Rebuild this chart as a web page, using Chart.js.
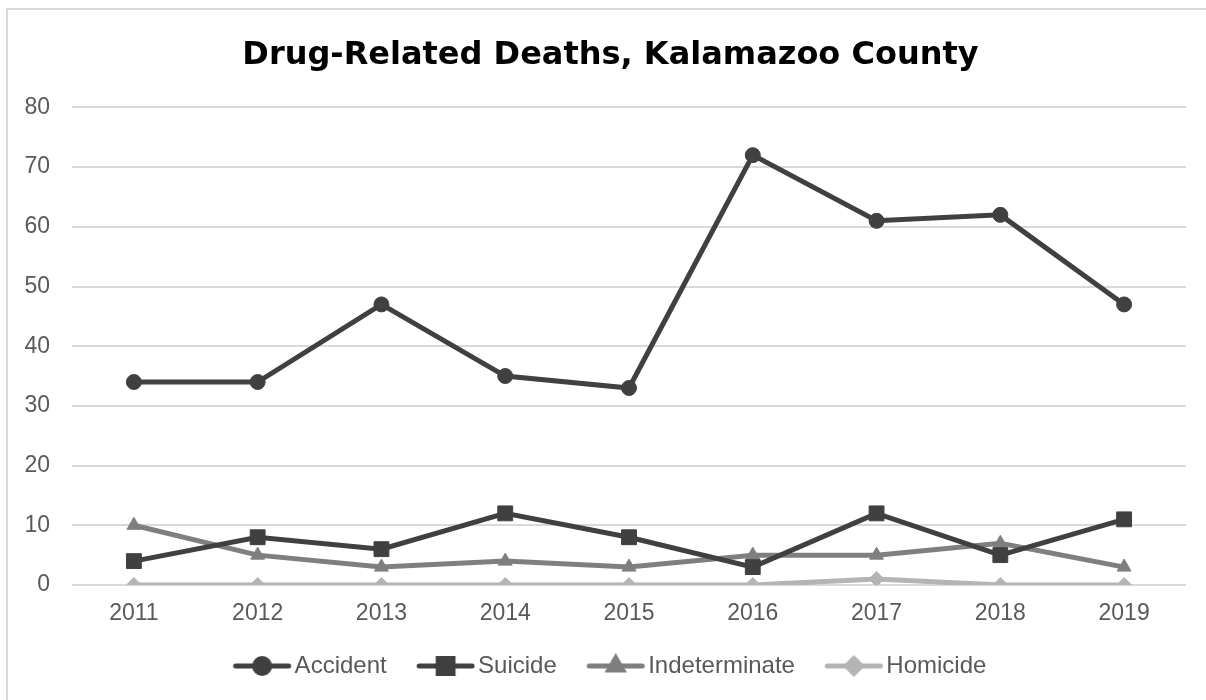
<!DOCTYPE html>
<html lang="en">
<head>
    <meta charset="UTF-8">
    <title>Drug-Related Deaths, Kalamazoo County</title>
    <style>
        html, body { margin: 0; padding: 0; background: #fff; }
        .frame {
            position: absolute;
            left: 6px; top: 8px;
            width: 1300px; height: 800px;
            border-left: 2px solid #d9d9d9;
            border-top: 2px solid #d9d9d9;
        }
        .wrap {
            position: absolute;
            left: 0; top: 0;
            width: 1206px; height: 700px;
        }
    </style>
</head>
<body>
    <div class="frame"></div>
    <div class="wrap">
        <canvas id="myChart"></canvas>
    </div>

    <script src="https://cdn.jsdelivr.net/npm/chart.js"></script>
    <script>
        const years = ['2011', '2012', '2013', '2014', '2015', '2016', '2017', '2018', '2019'];
        const accident      = [34, 34, 47, 35, 33, 72, 61, 62, 47];
        const suicide       = [4, 8, 6, 12, 8, 3, 12, 5, 11];
        const indeterminate = [10, 5, 3, 4, 3, 5, 5, 7, 3];
        const homicide      = [0, 0, 0, 0, 0, 0, 1, 0, 0];

        // legend symbol: short line with the marker in the middle
        // (blank space on the left stands in for the gap between items)
        function legendIcon(color, style, radius) {
            const c = document.createElement('canvas');
            c.width = 88;
            c.height = 26;
            const g = c.getContext('2d');
            g.strokeStyle = color;
            g.fillStyle = color;
            g.lineWidth = 5;
            g.lineCap = 'round';
            g.beginPath();
            g.moveTo(31, 13);
            g.lineTo(84, 13);
            g.stroke();
            Chart.helpers.drawPoint(g, { pointStyle: style, radius: radius, rotation: 0, borderWidth: 1 }, 57.5, 13);
            return c;
        }

        function series(label, data, color, style, radius) {
            return {
                label: label,
                data: data,
                borderColor: color,
                backgroundColor: color,
                borderWidth: 5,
                pointStyle: style,
                pointRadius: radius,
                pointHoverRadius: radius,
                pointBorderWidth: 1,
                tension: 0,
                icon: legendIcon(color, style, radius)
            };
        }

        // centre the title over the plot rather than the whole canvas
        const titleShift = {
            id: 'titleShift',
            afterLayout(chart) { chart.titleBlock.left += 20; }
        };

        const ctx = document.getElementById('myChart');

        new Chart(ctx, {
            type: 'line',
            data: {
                labels: years,
                datasets: [
                    series('Accident', accident, '#404040', 'circle', 7.5),
                    series('Suicide', suicide, '#404040', 'rect', 10.5),
                    series('Indeterminate', indeterminate, '#7f7f7f', 'triangle', 8),
                    series('Homicide', homicide, '#b4b4b4', 'rectRot', 7.5)
                ]
            },
            plugins: [titleShift],
            options: {
                responsive: true,
                maintainAspectRatio: false,
                animation: false,
                layout: {
                    padding: { left: 15, right: 20, top: 0, bottom: 12 }
                },
                plugins: {
                    title: {
                        display: true,
                        text: 'Drug-Related Deaths, Kalamazoo County',
                        color: '#000',
                        font: { family: 'DejaVu Sans', size: 32, weight: 'bold' },
                        padding: { top: 36, bottom: 33 }
                    },
                    legend: {
                        position: 'bottom',
                        labels: {
                            usePointStyle: true,
                            pointStyleWidth: 68,
                            padding: 11.4,
                            color: '#595959',
                            font: { family: 'Liberation Sans', size: 24 },
                            generateLabels: chart => chart.data.datasets.map((ds, i) => ({
                                text: ds.label,
                                pointStyle: ds.icon,
                                fillStyle: ds.borderColor,
                                strokeStyle: ds.borderColor,
                                fontColor: '#595959',
                                lineWidth: 0,
                                hidden: false,
                                datasetIndex: i
                            }))
                        }
                    },
                    tooltip: { enabled: false }
                },
                scales: {
                    x: {
                        offset: true,
                        grid: { display: false, drawTicks: false },
                        border: { display: false },
                        ticks: {
                            color: '#595959',
                            padding: 15,
                            font: { family: 'Liberation Sans', size: 23 }
                        }
                    },
                    y: {
                        min: 0,
                        max: 80,
                        border: { display: false },
                        grid: { color: '#d9d9d9', lineWidth: 2, drawTicks: false },
                        afterFit: scale => { scale.width = 57; },
                        ticks: {
                            stepSize: 10,
                            color: '#595959',
                            padding: 22,
                            font: { family: 'Liberation Sans', size: 23 }
                        }
                    }
                }
            }
        });
    </script>
</body>
</html>
